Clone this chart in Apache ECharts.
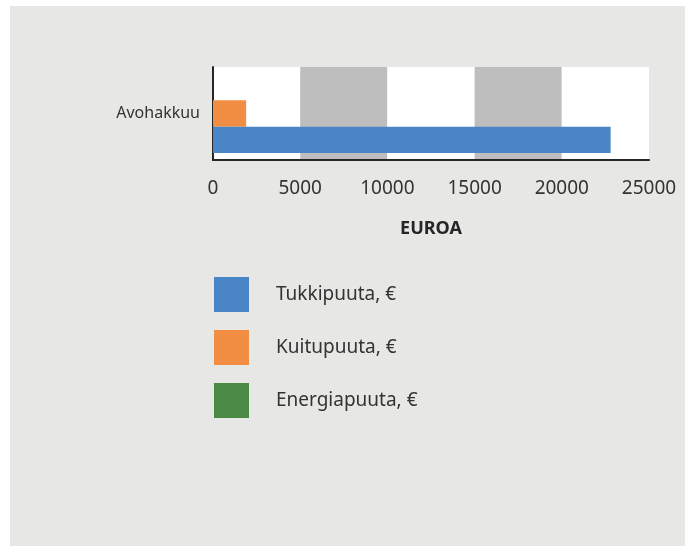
<!DOCTYPE html>
<html>
<head>
<meta charset="utf-8">
<script src="https://cdn.jsdelivr.net/npm/echarts@6/dist/echarts.min.js"></script>
<style>
  html, body { margin: 0; padding: 0; background: #ffffff; }
  #chart { width: 692px; height: 546px; }
</style>
</head>
<body>
<div id="chart"></div>
<script>
// 数据
var categories = ['Avohakkuu'];
var seriesNames = ['Tukkipuuta, €', 'Kuitupuuta, €', 'Energiapuuta, €'];
var tukki = [22800];
var kuitu = [1900];
var energia = [0];
var xTicks = [0, 5000, 10000, 15000, 20000, 25000];

var colors = ['#4a86c6', '#f28e43', '#4a8a45'];

var myChart = echarts.init(document.getElementById('chart'));
var font = '"Noto Sans", sans-serif';

// 横向柱状图中第一个系列在最上面，所以倒序放入
var option = {
  backgroundColor: '#ffffff',
  animation: false,
  textStyle: { fontFamily: font },
  graphic: [{
    type: 'rect',
    z: -10,
    shape: { x: 10, y: 6, width: 675, height: 540 },
    style: { fill: '#e7e7e5' }
  }],
  legend: {
    orient: 'vertical',
    left: 209,
    top: 272,
    itemWidth: 35,
    itemHeight: 35,
    itemGap: 18,
    icon: 'rect',
    data: seriesNames,
    textStyle: { fontSize: 19, color: '#333333', padding: [4, 0, 0, 22], fontFamily: font }
  },
  grid: {
    left: 213,
    right: 43,
    top: 67,
    bottom: 386,
    show: true,
    backgroundColor: '#ffffff',
    borderWidth: 0
  },
  xAxis: {
    type: 'value',
    min: xTicks[0],
    max: xTicks[xTicks.length - 1],
    interval: 5000,
    name: 'EUROA',
    nameLocation: 'middle',
    nameGap: 60,
    nameTextStyle: { fontSize: 18, fontWeight: 'bold', color: '#262626', fontFamily: font },
    axisLine: { show: true, lineStyle: { color: '#262626', width: 2 } },
    axisTick: { show: false },
    splitLine: { show: false },
    splitArea: { show: true, areaStyle: { color: ['#ffffff', '#bdbebd'] } },
    axisLabel: {
      fontSize: 19, color: '#333333', margin: 19, fontFamily: font,
      formatter: function (v) { return String(v); }
    }
  },
  yAxis: {
    type: 'category',
    data: categories,
    axisLine: { show: true, lineStyle: { color: '#262626', width: 2 } },
    axisTick: { show: false },
    axisLabel: { fontSize: 16, color: '#333333', margin: 13, fontFamily: font }
  },
  series: [
    { name: seriesNames[2], type: 'bar', data: energia, itemStyle: { color: colors[2] }, barGap: 0, barCategoryGap: '15%' },
    { name: seriesNames[1], type: 'bar', data: kuitu, itemStyle: { color: colors[1] }, barGap: 0, barCategoryGap: '15%' },
    { name: seriesNames[0], type: 'bar', data: tukki, itemStyle: { color: colors[0] }, barGap: 0, barCategoryGap: '15%' }
  ]
};

myChart.setOption(option);
</script>
</body>
</html>
